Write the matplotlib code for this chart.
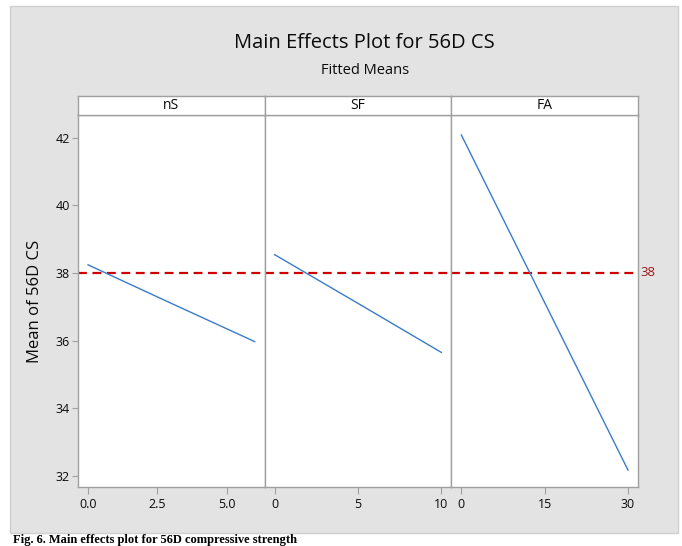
import matplotlib
matplotlib.use("Agg")
import matplotlib.pyplot as plt
from matplotlib.patches import Rectangle
import matplotlib.transforms as mtransforms

# ---- data ----
factors = ["nS", "SF", "FA"]
x_nS = [0, 3, 6]
y_nS = [38.24, 37.10, 35.97]
x_SF = [0, 5, 10]
y_SF = [38.54, 37.10, 35.65]
x_FA = [0, 15, 30]
y_FA = [42.08, 37.12, 32.17]
xticks_nS = [0.0, 2.5, 5.0]
xticklabels_nS = ["0.0", "2.5", "5.0"]
xticks_SF = [0, 5, 10]
xticks_FA = [0, 15, 30]
yticks = [32, 34, 36, 38, 40, 42]
overall_mean = 38

series = [(x_nS, y_nS, xticks_nS, xticklabels_nS),
          (x_SF, y_SF, xticks_SF, [str(v) for v in xticks_SF]),
          (x_FA, y_FA, xticks_FA, [str(v) for v in xticks_FA])]

W, H = 682, 546
plt.rcParams['font.family'] = ['Open Sans', 'DejaVu Sans']
fig = plt.figure(figsize=(W / 100, H / 100), dpi=100)
fig.patch.set_facecolor("white")

def fx(px):
    return px / W

def fy(py):
    return 1 - py / H

# gray background panel
bg = Rectangle((fx(10), fy(533)), fx(678) - fx(10), fy(6) - fy(533),
               transform=fig.transFigure, facecolor="#E3E3E3",
               edgecolor="#CFCFCF", linewidth=1.0, zorder=-10)
fig.patches.append(bg)

fig.text(fx(364), fy(43), "Main Effects Plot for 56D CS", ha="center", va="center",
         fontsize=14.5, color="#0A0A0A")
fig.text(fx(365), fy(71), "Fitted Means", ha="center", va="center",
         fontsize=10.5, color="#0A0A0A")

left0, right0, top0, bot0, strip_top = 78, 638, 115, 487, 96
pw = (right0 - left0) / 3
spine_col = "#A0A0A0"
ylim = (31.67, 42.67)

axes = []
for i, (xs, ys, xt, xtl) in enumerate(series):
    L = left0 + i * pw
    ax = fig.add_axes([fx(L), fy(bot0), pw / W, (bot0 - top0) / H])
    ax.set_facecolor("white")
    ax.plot(xs, ys, color="#3A7BCB", linewidth=1.0, zorder=3)
    ax.axhline(overall_mean, color="#CC0000", linestyle=(0, (4, 2.5)), linewidth=1.6, zorder=2)
    rng = max(xs) - min(xs)
    ax.set_xlim(min(xs) - 0.06 * rng, max(xs) + 0.06 * rng)
    ax.set_ylim(*ylim)
    ax.set_xticks(xt)
    ax.set_xticklabels(xtl)
    for s in ax.spines.values():
        s.set_color(spine_col)
        s.set_linewidth(1.0)
    ax.tick_params(axis="x", direction="out", length=5, width=0.8, color=spine_col,
                   labelsize=9, labelcolor="#0A0A0A", pad=3)
    if i == 0:
        ax.set_yticks(yticks)
        ax.tick_params(axis="y", direction="out", length=4, width=0.8, color=spine_col,
                       labelsize=9, labelcolor="#0A0A0A", pad=2)
        ax.set_ylabel("Mean of 56D CS", fontsize=12, color="#0A0A0A", labelpad=9)
    else:
        ax.set_yticks([])
    # strip
    sax = fig.add_axes([fx(L), fy(top0), pw / W, (top0 - strip_top) / H])
    sax.set_facecolor("white")
    sax.set_xticks([]); sax.set_yticks([])
    for s in sax.spines.values():
        s.set_color(spine_col)
        s.set_linewidth(1.0)
    sax.text(0.5, 0.5, factors[i], ha="center", va="center", fontsize=10,
             color="#0A0A0A", transform=sax.transAxes)
    axes.append(ax)

trans = mtransforms.blended_transform_factory(axes[2].transAxes, axes[2].transData)
axes[2].text(1.012, overall_mean, str(overall_mean), transform=trans, ha="left", va="center",
             fontsize=9.5, color="#A01818", clip_on=False)

fig.text(fx(13), fy(545.5), "Fig. 6. Main effects plot for 56D compressive strength",
         ha="left", va="bottom", fontsize=9, fontweight="bold",
         family=["Liberation Serif"], color="black")

fig.savefig("out.png", dpi=100)
